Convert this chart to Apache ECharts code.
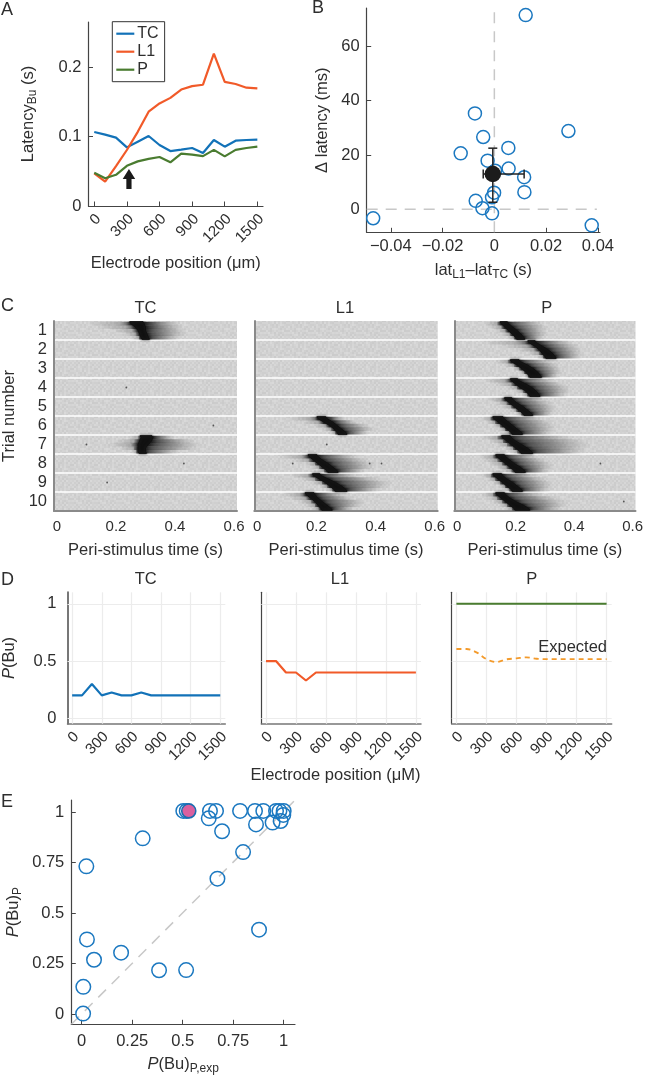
<!DOCTYPE html>
<html><head><meta charset="utf-8">
<style>html,body{margin:0;padding:0;background:#fff}#c{width:646px;height:1076px}</style>
<script src="https://cdn.jsdelivr.net/npm/echarts@6/dist/echarts.min.js"></script>
</head><body><div id="c"></div>
<script>
// ---------- data ----------
const positions = [0,100,200,300,400,500,600,700,800,900,1000,1100,1200,1300,1400,1500];
const positionTicks = [0,300,600,900,1200,1500];
const latencyTC = [.1067,.103,.0986,.0846,.0928,.101,.088,.0793,.0813,.0837,.0764,.0952,.0856,.0942,.0952,.0957];
const latencyL1 = [.047,.035,.0577,.0808,.107,.136,.148,.156,.168,.173,.175,.22,.179,.176,.1707,.1697];
const latencyP  = [.048,.04,.045,.058,.0644,.068,.0707,.063,.0755,.074,.072,.081,.0716,.081,.0837,.0856];
const arrowPoint = [[319,.039]];
const latencyTicks = [0,.1,.2];

const deltaPoints = [[.0121,71.5],[-.0075,35.3],[-.0043,26.6],[.0286,28.8],[.0054,22.6],[-.013,20.6],[-.0026,17.9],[.0055,15],[.0003,14.2],[.0115,11.8],[.0116,6.3],[-.0001,6.1],[-.0009,4.4],[-.0072,3.1],[-.0046,.4],[-.0009,-1.5],[-.0468,-3.3],[.0376,-5.9]];
const deltaMean = [[-.0006,13]];
const deltaError = [[-.0006,13,-.0043,.0115,2.6,22.5]];
const deltaXTicks = [-.04,-.02,0,.02,.04];
const deltaYTicks = [0,20,40,60];

const trialLabels = ['1','2','3','4','5','6','7','8','9','10'];
const timeTicks = [0,.2,.4,.6];
// raster: trial index -> five strips, top to bottom: [fade start, dark start, dark end, tail end] (s)
const rasterTC = {
 0:[[.10,.25,.295,.42],[.13,.265,.30,.43],[.19,.275,.30,.44],[.22,.28,.305,.44],[.25,.285,.31,.42]],
 6:[[.24,.285,.325,.40],[.20,.28,.32,.47],[.17,.275,.31,.49],[.21,.275,.30,.48],[.25,.275,.30,.42]]
};
const rasterL1 = {
 5:[[.10,.205,.235,.30],[.15,.225,.255,.34],[.19,.245,.27,.38],[.22,.26,.285,.40],[.24,.27,.30,.38]],
 7:[[.07,.175,.205,.35],[.12,.19,.22,.38],[.16,.205,.24,.40],[.18,.22,.255,.40],[.20,.235,.27,.37]],
 8:[[.11,.19,.215,.35],[.15,.21,.24,.42],[.18,.23,.265,.46],[.21,.245,.285,.45],[.23,.26,.30,.42]],
 9:[[.08,.165,.195,.30],[.11,.18,.205,.33],[.14,.195,.22,.37],[.16,.205,.235,.36],[.18,.215,.25,.33]]
};
const rasterP = {
 0:[[.09,.150,.175,.30],[.11,.163,.190,.31],[.13,.175,.205,.31],[.15,.188,.218,.31],[.17,.200,.228,.30]],
 1:[[.08,.245,.270,.40],[.15,.265,.290,.42],[.20,.28,.31,.43],[.24,.29,.325,.43],[.27,.30,.335,.43]],
 2:[[.13,.185,.215,.33],[.16,.205,.24,.35],[.19,.22,.26,.36],[.21,.235,.275,.36],[.23,.245,.285,.35]],
 3:[[.09,.185,.21,.34],[.13,.20,.235,.37],[.17,.215,.255,.39],[.20,.235,.27,.39],[.22,.245,.28,.38]],
 4:[[.10,.165,.19,.31],[.13,.18,.205,.33],[.15,.195,.225,.34],[.18,.21,.24,.34],[.20,.225,.255,.33]],
 5:[[.08,.125,.16,.30],[.10,.14,.175,.33],[.12,.155,.19,.34],[.14,.17,.205,.34],[.16,.185,.22,.33]],
 6:[[.08,.155,.185,.40],[.11,.17,.20,.45],[.13,.185,.22,.46],[.16,.20,.24,.45],[.18,.215,.255,.44]],
 7:[[.075,.135,.165,.28],[.09,.15,.18,.31],[.11,.165,.195,.33],[.13,.18,.215,.33],[.15,.195,.23,.32]],
 8:[[.08,.125,.155,.28],[.10,.14,.17,.31],[.12,.155,.19,.33],[.14,.17,.205,.33],[.16,.185,.22,.32]],
 9:[[.08,.135,.165,.30],[.10,.15,.18,.35],[.12,.165,.20,.38],[.14,.18,.225,.38],[.16,.195,.245,.36]]
};
const specksTC = [[.235,3],[.53,5],[.10,6],[.43,7],[.17,8]];
const specksL1 = [[.12,7],[.235,6],[.42,7],[.38,7]];
const specksP = [[.49,7],[.57,9]];
// hand-typed background grain of the raster panels (grey offsets, 0-9)
const grainRows = ['471635280946','825094716352','360728419507','714952036184','093681527460','562470938215','248316059742','907524183063','635189740528','182047365901','759360821476','316892507143'];

const probTC = [.2,.2,.3,.2,.225,.2,.2,.225,.2,.2,.2,.2,.2,.2,.2,.2];
const probL1 = [.5,.5,.4,.4,.33,.4,.4,.4,.4,.4,.4,.4,.4,.4,.4,.4];
const probP  = [1,1,1,1,1,1,1,1,1,1,1,1,1,1,1,1];
const probExpected = [.605,.605,.576,.517,.491,.515,.523,.532,.52,.517,.517,.517,.517,.517,.517,.517];
const probYTicks = [0,.5,1];

const comparePoints = [[.007,.002],[.008,.135],[.061,.269],[.026,.37],[.195,.304],[.383,.217],[.517,.218],[.023,.732],[.302,.871],[.878,.418],[.672,.671],[.799,.803],[.695,.906],[.629,.97],[.635,1.007],[.665,1.007],[.784,1.007],[.858,1.007],[.899,1.007],[.863,.94],[.945,.949],[.985,.957],[.962,1.007],[.979,1.007],[.998,.987],[1,1.007],[.503,1.007],[.52,1.007]];
const compareHighlight = [[.53,1.007]];
const compareTicks = [0,.25,.5,.75,1];
const compareDiagonal = [[-.051,-.051],[1.056,1.06]];

// ---------- style ----------
const FONT = '"Liberation Sans", Arial, sans-serif';
const INK = '#2e2e2e', BLUE = '#1272b8', RED = '#f15a29', GREEN = '#4a7c30', AMBER = '#f39a2b', RING = '#1b78c0', DASH = '#c8c8c8';
const FS = 16.5;
const rich = {
  sub:{fontFamily:FONT,fontSize:12,color:INK,verticalAlign:'bottom',lineHeight:20,padding:[8,0,0,0]},
  it:{fontFamily:FONT,fontSize:FS,color:INK,fontStyle:'italic',lineHeight:20},
  n:{fontFamily:FONT,fontSize:FS,color:INK,lineHeight:20}
};
const nameStyle = {fontFamily:FONT,fontSize:FS,color:INK,rich};
const fmt = v => String(v).replace('-','\u2212');

// grain tile for the raster background
const tile = document.createElement('canvas'); tile.width = 24; tile.height = 24;
(function(){ const c = tile.getContext('2d');
  grainRows.forEach((row,y)=>row.split('').forEach((d,x)=>{ const v = 203 + (+d)*1.6|0; c.fillStyle = `rgb(${v},${v},${v})`; c.fillRect(x*2,y*2,2,2); }));
})();

function valueAxis(o){
  return Object.assign({
    type:'value',scale:false,splitLine:{show:false},nameLocation:'middle',nameTextStyle:nameStyle,
    axisLine:{show:true,onZero:false,lineStyle:{color:o.lineColor||'#444',width:o.lineWidth||1.2}},
    axisTick:{show:o.tick!==false,inside:true,length:4.5,customValues:o.ticks,lineStyle:{color:'#444',width:1}},
    axisLabel:{show:o.labels!==false,customValues:o.ticks,formatter:fmt,fontFamily:FONT,fontSize:o.fs||FS,color:INK,margin:o.margin||7,
      rotate:o.rotate||0,padding:o.labelPadding||0}
  },o.extra||{});
}
function ax(gridIndex,min,max,ticks,o){
  return valueAxis(Object.assign({ticks},o||{},{extra:Object.assign({gridIndex,min,max},(o||{}).extra||{})}));
}
const lbl = (text,left,top,fontSize,align) => ({text,left,top,textAlign:align||'center',textVerticalAlign:'middle',
   textStyle:{fontFamily:FONT,fontSize:fontSize||FS,fontWeight:'normal',color:INK,rich}, padding:0});

const grids = [
 {left:88.5,top:22,width:174.5,height:184},              // 0 A
 {left:366.7,top:8,width:233.3,height:224.3},            // 1 B
 {left:54,top:321,width:183,height:190},                 // 2 C TC
 {left:254.3,top:321,width:183.4,height:190},            // 3 C L1
 {left:454.3,top:321,width:184.7,height:190},            // 4 C P
 {left:66,top:592.3,width:159.3,height:131.4},           // 5 D TC
 {left:261.3,top:592.3,width:159.7,height:131.4},        // 6 D L1
 {left:451.7,top:592.3,width:160,height:131.4},          // 7 D P
 {left:71.3,top:800,width:223.7,height:224.3}            // 8 E
];
grids.forEach((g,i)=>{ if(i>=2&&i<=4){g.show=true;g.backgroundColor={image:tile,repeat:'repeat'};g.borderWidth=0;} });

const rotPad = [0,-6,0,0];
const xAxes = [
 ax(0,-53,1552,positionTicks,{rotate:45,margin:15,fs:15,labelPadding:rotPad,extra:{name:'Electrode position (\u03BCm)',nameGap:49}}),
 ax(1,-.0493,.0408,deltaXTicks,{margin:6,extra:{name:'{n|lat}{sub|L1}{n|\u2013lat}{sub|TC}{n| (s)}',nameGap:28}}),
];
[2,3,4].forEach(g=>{
 xAxes.push(ax(g,-.01,.61,timeTicks,{fs:15,tick:false,margin:8,lineColor:'#8a8a8a',lineWidth:2,extra:{name:'Peri-stimulus time (s)',nameGap:31}}));
});
[5,6,7].forEach(g=>{
 xAxes.push(ax(g,-47,1551,positionTicks,{rotate:45,margin:15,fs:15,labelPadding:rotPad,tick:false,lineColor:'#777',lineWidth:1.5}));
});
xAxes.push(ax(8,-.0515,1.056,compareTicks,{margin:9,extra:{name:'{it|P}{n|(Bu)}{sub|P,exp}',nameGap:30}}));

const yAxes = [
 ax(0,0,.2655,latencyTicks,{extra:{name:'{n|Latency}{sub|Bu}{n| (s)}',nameGap:50}}),
 ax(1,-8.47,74.1,deltaYTicks,{extra:{name:'\u0394 latency (ms)',nameGap:36}})
];
[2,3,4].forEach((g,i)=>{
 yAxes.push({type:'category',gridIndex:g,inverse:true,data:trialLabels,
  name:i===0?'Trial number':'',nameLocation:'middle',nameGap:36,nameTextStyle:nameStyle,
  axisLine:{show:true,onZero:false,lineStyle:{color:'#8a8a8a',width:2}},axisTick:{show:false},
  axisLabel:{show:i===0,interval:0,fontFamily:FONT,fontSize:FS,color:INK,margin:7},
  splitLine:{show:true,interval:0,showMinLine:false,showMaxLine:false,lineStyle:{color:'#fff',width:1.5}}});
});
[5,6,7].forEach((g,i)=>{
 yAxes.push(ax(g,-.047,1.1,probYTicks,{tick:false,labels:i===0,lineColor:i===0?'#777':'#444',lineWidth:i===0?2:1.2,margin:11,
    extra:{name:i===0?'{it|P}{n|(Bu)}':'',nameGap:48}}));
});
yAxes.push(ax(8,-.051,1.061,compareTicks,{extra:{name:'{it|P}{n|(Bu)}{sub|P}',nameGap:48}}));

const zip = ys => positions.map((x,i)=>[x,ys[i]]);
const line = (name,g,ys,color,extra) => Object.assign({name,type:'line',xAxisIndex:g,yAxisIndex:g,data:zip(ys),showSymbol:false,symbol:'none',
   lineStyle:{color,width:2.2},itemStyle:{color},animation:false,silent:true,z:3},extra||{});
const ring = (g,data,size) => ({type:'scatter',xAxisIndex:g,yAxisIndex:g,data,symbolSize:size,animation:false,silent:true,
   itemStyle:{color:'rgba(0,0,0,0)',borderColor:RING,borderWidth:1.5,opacity:1}});
const dashLine = (g,data) => ({type:'line',xAxisIndex:g,yAxisIndex:g,data,showSymbol:false,symbol:'none',animation:false,silent:true,
   lineStyle:{color:DASH,width:1.5,type:[11,8]},z:1});
const gridLines = {silent:true,symbol:'none',animation:false,z:1,label:{show:false},lineStyle:{color:'#ececec',width:1.2,type:'solid'},
   data:[...probYTicks.map(yAxis=>({yAxis})),...positionTicks.map(xAxis=>({xAxis}))]};

function rasterRows(r){ return Object.keys(r).map(k=>[+k,...r[k].flat()]); }
function rasterItem(params,api){
  const trial=api.value(0), band=api.size([0,1])[1], H=(band-1.5)/5, top0=api.coord([0,trial])[1]-band/2+.75;
  const X=t=>api.coord([t,trial])[0], children=[], left=[], right=[];
  for(let s=0;s<5;s++){
    const a=api.value(1+s*4), b=api.value(2+s*4), c=api.value(3+s*4), d=api.value(4+s*4);
    const xa=X(a), W=X(d)-xa, m1=(X(b)-xa)/W, m2=(X(c)-xa)/W, top=top0+s*H;
    children.push({type:'rect',shape:{x:xa,y:top,width:W,height:H+.2},style:{fill:new echarts.graphic.LinearGradient(0,0,1,0,[
      {offset:0,color:'rgba(110,110,110,0)'},{offset:m1*.75,color:'rgba(95,95,95,.35)'},
      {offset:Math.max(m1*.75,m1-.05),color:'rgba(65,65,65,.62)'},{offset:m1,color:'rgba(20,20,20,.95)'},{offset:m2,color:'rgba(20,20,20,.95)'},
      {offset:Math.min(1,m2+.08),color:'rgba(45,45,45,.8)'},{offset:m2+(1-m2)*.5,color:'rgba(100,100,100,.58)'},{offset:1,color:'rgba(150,150,150,0)'}])}});
    const cy=top+H/2;
    if(s===0){left.push([X(b)-1,top0]);right.push([X(c)-1,top0]);}
    left.push([X(b),cy]);right.push([X(c),cy]);
    if(s===4){left.push([X(b)+1,top0+5*H]);right.push([X(c)+1,top0+5*H]);}
  }
  children.push({type:'polygon',shape:{points:left.concat(right.reverse())},style:{fill:'#111',stroke:'#111',lineWidth:1,shadowBlur:2.5,shadowColor:'#222'}});
  return {type:'group',children};
}
const raster = (g,r) => ({type:'custom',xAxisIndex:g,yAxisIndex:g,coordinateSystem:'cartesian2d',data:rasterRows(r),renderItem:rasterItem,
   encode:{x:[2,3,4],y:0},animation:false,silent:true,clip:true});
const specks = (g,d) => ({type:'scatter',xAxisIndex:g,yAxisIndex:g,data:d,symbolSize:1.8,itemStyle:{color:'#555',opacity:1},animation:false,silent:true});

const series = [
 line('TC',0,latencyTC,BLUE), line('L1',0,latencyL1,RED), line('P',0,latencyP,GREEN),
 {type:'scatter',xAxisIndex:0,yAxisIndex:0,data:arrowPoint,symbol:'path://M6 0 L12 10 L8.5 10 L8.5 20 L3.5 20 L3.5 10 L0 10 Z',symbolSize:[12.5,20],
   itemStyle:{color:'#1a1a1a',opacity:1},animation:false,silent:true},
 dashLine(1,[[-.0493,0],[.0396,0]]), dashLine(1,[[0,-8.47],[0,74.1]]),
 ring(1,deltaPoints,13),
 {type:'custom',xAxisIndex:1,yAxisIndex:1,coordinateSystem:'cartesian2d',data:deltaError,encode:{x:[2,3],y:[4,5]},animation:false,silent:true,z:3,
  renderItem(p,api){
    const my=api.value(1), mx=api.value(0), c=(x,y)=>api.coord([x,y]);
    const L=c(api.value(2),my), R=c(api.value(3),my), B=c(mx,api.value(4)), T=c(mx,api.value(5));
    const st={stroke:'#222',lineWidth:1.5,fill:null}, capH=4.5, capW=4.5;
    const l=(x1,y1,x2,y2)=>({type:'line',shape:{x1,y1,x2,y2},style:st});
    return {type:'group',children:[l(L[0],L[1],R[0],R[1]),l(T[0],T[1],B[0],B[1]),
      l(L[0],L[1]-capH,L[0],L[1]+capH),l(R[0],R[1]-capH,R[0],R[1]+capH),l(T[0]-capW,T[1],T[0]+capW,T[1]),l(B[0]-capW,B[1],B[0]+capW,B[1])]};
  }},
 {type:'scatter',xAxisIndex:1,yAxisIndex:1,data:deltaMean,symbolSize:16.5,itemStyle:{color:'#1c1c1c',opacity:1},z:4,animation:false,silent:true},
 raster(2,rasterTC), raster(3,rasterL1), raster(4,rasterP),
 specks(2,specksTC), specks(3,specksL1), specks(4,specksP),
 line('TC prob',5,probTC,BLUE,{markLine:gridLines}), line('L1 prob',6,probL1,RED,{markLine:gridLines}), line('P prob',7,probP,GREEN,{markLine:gridLines}),
 line('Expected',7,probExpected,AMBER,{smooth:.35,lineStyle:{color:AMBER,width:1.8,type:[5,4]}}),
 dashLine(8,compareDiagonal),
 ring(8,comparePoints,14.5),
 {type:'scatter',xAxisIndex:8,yAxisIndex:8,data:compareHighlight,symbolSize:14,itemStyle:{color:'#d9609f',borderColor:'#1b6db0',borderWidth:1.6,opacity:1},animation:false,silent:true,z:4}
];

const titles = [
 lbl('A',1,10,18,'left'),lbl('B',312,8,18,'left'),lbl('C',1,306,18,'left'),lbl('D',1,580,18,'left'),lbl('E',1,802,18,'left'),
 lbl('TC',145.5,308),lbl('L1',345,308),lbl('P',546.7,308),
 lbl('TC',145.7,579),lbl('L1',340,579),lbl('P',531.7,579),
 lbl('Expected',607,647,FS,'right'),
 lbl('Electrode position (\u03BCM)',335.5,775)
];

const chart = echarts.init(document.getElementById('c'),null,{renderer:'canvas',width:646,height:1076});
chart.setOption({
 animation:false,backgroundColor:'#fff',title:titles,grid:grids,xAxis:xAxes,yAxis:yAxes,series,
 legend:{data:['TC','L1','P'],orient:'vertical',left:112.3,top:21.7,icon:'rect',itemWidth:18,itemHeight:2.2,itemGap:2,padding:[4,6,4,4],
   borderColor:'#333',borderWidth:1,selectedMode:false,textStyle:{fontFamily:FONT,fontSize:16,color:INK,padding:[0,0,0,-2]}}
});
</script></body></html>
